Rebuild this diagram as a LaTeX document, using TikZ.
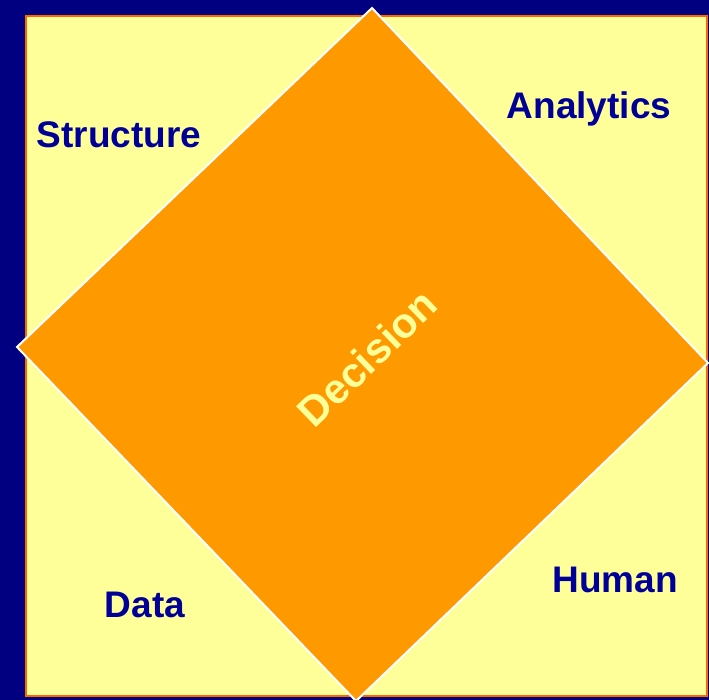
\documentclass[tikz,border=0pt]{standalone}
\usepackage{fontspec}
\setmainfont{Liberation Sans}
\usetikzlibrary{positioning}
\definecolor{DeepNavy}{HTML}{000080}
\definecolor{InkBlue}{HTML}{000099}
\definecolor{Butter}{HTML}{FFFF99}
\definecolor{Amber}{HTML}{FF9900}
\definecolor{Ember}{HTML}{FF6600}

\begin{document}
\begin{tikzpicture}[x=1pt, y=-1pt]
    \useasboundingbox (0,0) rectangle (709,700);

    % Slide background and panel
    \fill[DeepNavy] (0,0) rectangle (709,700);
    \draw[Ember, line width=2pt, fill=Butter] (26,16) rectangle (707,696);

    % Central diamond
    \draw[white, line width=2pt, fill=Amber, line join=miter]
        (372,8) -- (708,363) -- (356,701) -- (17,347) -- cycle;
    \node[rotate=44, text=Butter, font=\fontsize{42}{46}\selectfont\bfseries]
        (decision) at (367,358) {Decision};

    % Corner labels
    \foreach \x/\y/\name/\label in {119/135/structure/Structure, 589/109/analytics/Analytics,
                                   145/605/data/Data, 615/580/human/Human} {
        \node[text=InkBlue, font=\fontsize{37}{41}\selectfont\bfseries]
            (\name) at (\x,\y) {\label};
    }
\end{tikzpicture}
\end{document}
